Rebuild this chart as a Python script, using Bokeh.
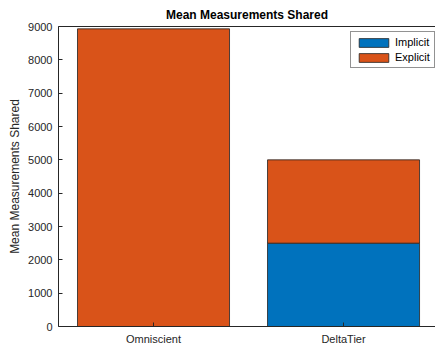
from bokeh.plotting import figure
from bokeh.models import ColumnDataSource, Range1d, FixedTicker, LinearAxis, Legend
from bokeh.embed import file_html
from bokeh.resources import INLINE

categories = ["Omniscient", "DeltaTier"]
implicit = [0, 2500]
explicit = [8930, 2500]
y_ticks = [0, 1000, 2000, 3000, 4000, 5000, 6000, 7000, 8000, 9000]

positions = list(range(1, len(categories) + 1))
src = ColumnDataSource(dict(x=positions, Implicit=implicit, Explicit=explicit))

FONT = "Liberation Sans"
TXT = "#262626"

p = figure(width=435, height=347, output_backend="svg", toolbar_location=None,
           x_range=Range1d(0.5, 2.484), y_range=Range1d(0, 9000),
           min_border_left=58, min_border_right=0, min_border_top=26, min_border_bottom=20)
p.title.text = "Mean Measurements Shared"
p.title.align = "center"
p.title.text_font = FONT
p.title.text_font_size = "12px"
p.title.text_font_style = "bold"
p.title.text_color = "black"
p.title.offset = 0

renderers = p.vbar_stack(["Implicit", "Explicit"], x="x", width=0.8, source=src,
                         color=["#0072BD", "#D95319"], line_color="#222222", line_width=0.8)

p.xgrid.visible = False
p.ygrid.visible = False
p.outline_line_color = None
p.background_fill_color = "white"
p.border_fill_color = "white"

xa = p.below[0]
ya = p.left[0]

xa.ticker = FixedTicker(ticks=positions)
xa.major_label_overrides = {pos: c for pos, c in zip(positions, categories)}
xa.minor_tick_line_color = None
ya.ticker = FixedTicker(ticks=y_ticks)
ya.minor_tick_line_color = None
ya.axis_label = "Mean Measurements Shared"
ya.axis_label_text_font = FONT
ya.axis_label_text_font_size = "12px"
ya.axis_label_text_font_style = "normal"
ya.axis_label_text_color = TXT
ya.axis_label_standoff = 3
for ax in (xa, ya):
    ax.major_tick_in = 4
    ax.major_tick_out = 0
    ax.axis_line_color = TXT
    ax.major_tick_line_color = TXT
    ax.major_label_text_font = FONT
    ax.major_label_text_font_size = "11px"
    ax.major_label_text_color = TXT
xa.major_label_standoff = 6
ya.major_label_standoff = 6

top = LinearAxis(ticker=FixedTicker(ticks=[]), minor_tick_line_color=None,
                 axis_line_color=TXT, major_tick_line_color=None)
p.add_layout(top, "above")

legend = Legend(items=[("Implicit", [renderers[0]]), ("Explicit", [renderers[1]])],
                location=(292, 258))
legend.label_text_font = FONT
legend.label_text_font_size = "11px"
legend.label_text_color = "black"
legend.glyph_width = 37
legend.glyph_height = 11
legend.label_height = 11
legend.spacing = 3
legend.padding = 4
legend.margin = 0
legend.label_standoff = 3
legend.border_line_color = TXT
legend.border_line_width = 1
legend.background_fill_alpha = 1
p.add_layout(legend, "center")

open("out.html", "w").write(file_html(p, INLINE))
